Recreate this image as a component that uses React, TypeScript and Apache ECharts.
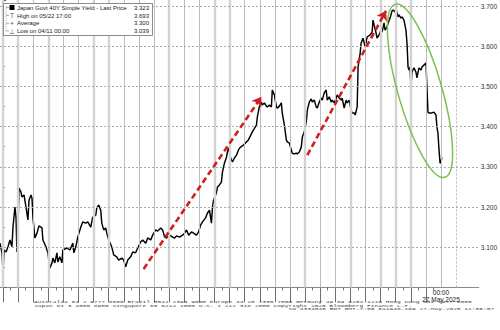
import React, { useEffect, useRef } from 'react';
import * as echarts from 'echarts';

// x position in trading sessions (one gray vertical line per session), y = yield
const sessionX = [
  -0.20,-0.07,0.00,0.07,0.20,0.33,0.46,0.59,0.66,0.79,
  0.86,0.92,0.99,1.06,1.19,1.25,1.39,1.52,1.65,1.72,
  1.85,1.92,1.98,2.11,2.25,2.38,2.58,2.64,2.84,2.97,
  3.10,3.24,3.30,3.43,3.57,3.63,3.76,3.90,3.96,4.23,
  4.43,4.62,4.69,4.82,4.95,5.15,5.28,5.48,5.61,5.81,
  5.94,6.14,6.21,6.34,6.47,6.54,6.67,6.80,6.87,7.00,
  7.20,7.33,7.53,7.66,7.86,7.99,8.12,8.26,8.45,8.59,
  8.78,8.92,9.11,9.25,9.45,9.58,9.78,9.91,10.11,10.24,
  10.44,10.57,10.70,10.83,11.03,11.23,11.36,11.49,11.69,11.89,
  12.02,12.15,12.29,12.48,12.62,12.81,12.95,13.08,13.21,13.41,
  13.54,13.67,13.80,13.87,13.94,14.13,14.20,14.33,14.46,14.53,
  14.66,14.80,14.86,14.93,15.06,15.19,15.32,15.46,15.59,15.72,
  15.85,16.05,16.25,16.51,16.78,16.84,16.97,17.11,17.17,17.31,
  17.44,17.50,17.64,17.77,17.83,17.97,18.10,18.16,18.30,18.43,
  18.49,18.63,18.76,18.82,18.96,19.09,19.15,19.29,19.42,19.48,
  19.62,19.75,19.82,19.95,20.08,20.15,20.28,20.41,20.48,20.61,
  20.74,20.81,20.94,21.07,21.14,21.27,21.40,21.47,21.60,21.73,
  21.80,21.93,22.06,22.13,22.26,22.39,22.46,22.59,22.72,22.79,
  22.92,23.05,23.12,23.25,23.32,23.45,23.51,23.65,23.71,23.84,
  23.98,24.11,24.31,24.44,24.50,24.57,24.70,24.77,24.90,25.03,
  25.10,25.23,25.30,25.43,25.50,25.63,25.76,25.83,25.96,26.02,
  26.16,26.22,26.35,26.42,26.55,26.68,26.75,26.82,26.88,26.95,
  27.01,27.08,27.21,27.34,27.41,27.54,27.68,27.74,27.87,28.01,
  28.07,28.14,28.20,28.40,28.53,28.67,28.73,28.80,28.86,28.94,
  29.00,29.06
];
const yields = [
  3.110,3.086,3.039,3.093,3.088,3.101,3.118,3.101,3.150,3.200,
  3.175,3.088,3.150,3.247,3.237,3.225,3.230,3.200,3.168,3.217,
  3.230,3.222,3.175,3.123,3.135,3.153,3.148,3.118,3.101,3.086,
  3.048,3.061,3.073,3.061,3.086,3.063,3.076,3.061,3.093,3.098,
  3.093,3.110,3.086,3.101,3.125,3.150,3.163,3.160,3.163,3.150,
  3.175,3.180,3.198,3.205,3.192,3.160,3.143,3.148,3.135,3.118,
  3.101,3.081,3.076,3.068,3.073,3.068,3.051,3.068,3.076,3.088,
  3.086,3.098,3.113,3.118,3.110,3.123,3.118,3.130,3.143,3.140,
  3.148,3.143,3.125,3.123,3.130,3.125,3.123,3.128,3.125,3.130,
  3.135,3.143,3.130,3.138,3.135,3.130,3.138,3.155,3.163,3.173,
  3.185,3.192,3.160,3.200,3.217,3.235,3.250,3.255,3.262,3.287,
  3.309,3.324,3.337,3.347,3.324,3.312,3.322,3.329,3.342,3.349,
  3.352,3.359,3.367,3.387,3.404,3.424,3.449,3.461,3.454,3.459,
  3.451,3.449,3.454,3.449,3.491,3.479,3.449,3.446,3.451,3.459,
  3.434,3.404,3.367,3.362,3.359,3.342,3.334,3.332,3.334,3.332,
  3.337,3.349,3.374,3.387,3.411,3.441,3.461,3.469,3.461,3.466,
  3.449,3.446,3.461,3.471,3.466,3.484,3.491,3.466,3.474,3.461,
  3.466,3.459,3.471,3.479,3.471,3.466,3.471,3.446,3.466,3.459,
  3.466,3.441,3.434,3.434,3.429,3.449,3.548,3.583,3.608,3.620,
  3.598,3.623,3.628,3.635,3.665,3.653,3.633,3.620,3.628,3.640,
  3.635,3.658,3.640,3.648,3.658,3.670,3.688,3.690,3.685,3.693,
  3.673,3.678,3.670,3.673,3.665,3.640,3.608,3.548,3.541,3.548,
  3.498,3.536,3.546,3.536,3.521,3.546,3.541,3.548,3.553,3.558,
  3.498,3.436,3.434,3.434,3.436,3.429,3.399,3.384,3.347,3.309,
  3.312,3.323
];

const yTicks = [3.1, 3.2, 3.3, 3.4, 3.5, 3.6, 3.7];
const sessionLines = Array.from({ length: 30 }, (_, i) => i);
const sessionTicks = Array.from({ length: 29 }, (_, i) => i);
const halfSessionTicks = Array.from({ length: 29 }, (_, i) => i + 0.5);
const wideSessions = [0, 1, 3, 6, 7, 11, 14, 15, 20, 23, 25, 26, 27];
const dottedSessions = [30];
const dateTickSession = 29;
const dateTickLabel = '00:00\n27 May 2025';

const legendLabels = [
  'Japan Govt 40Y Simple Yield - Last Price',
  'High on 05/22 17:00',
  'Average',
  'Low on 04/11 00:00',
];
const legendValues = ['3.323', '3.693', '3.300', '3.039'];
const legendGlyphs = ['', 'T', '+', '\u22A5'];
const lastPrice = 3.323;

const arrowSegments = [
  [[9.31, 3.046], [17.11, 3.474]],
  [[20.15, 3.329], [25.36, 3.688]],
];
const ellipseCenter = [27.61, 3.489];

const footerLines = [
  'Australia 61 2 9777 8600 Brazil 5511 2395 9000 Europe 44 20 7330 7500 Germany 49 69 9204 1210 Hong Kong 852 2977 6000',
  'Japan 81 3 4565 8900 Singapore 65 6212 1000 U.S. 1 212 318 2000 Copyright 2025 Bloomberg Finance L.P.',
  'SN 4334045 BDT GMT-7:00 6a1948-169 27-May-2025 11:56:57',
];

const FONT = '"Liberation Sans", Arial, sans-serif';
const MONO = '"Liberation Mono", "DejaVu Sans Mono", monospace';

export default function App() {
  const ref = useRef<HTMLDivElement>(null);

  useEffect(() => {
    if (!ref.current) return;
    const chart = echarts.init(ref.current, null, { renderer: 'svg' });

    const lineData = sessionX.map((x, i) => [x, yields[i]]);
    const Z = 100;

    const legendChildren: any[] = [
      { type: 'rect', z: Z, shape: { x: 3.5, y: 3.5, width: 149, height: 32 }, style: { fill: '#fff', stroke: '#8c8c8c', lineWidth: 1 } },
      { type: 'line', z: Z + 1, shape: { x1: 6, y1: 6, x2: 6, y2: 31 }, style: { stroke: '#999', lineWidth: 0.8, lineDash: [1, 1] } },
      { type: 'rect', z: Z + 1, shape: { x: 9.5, y: 5, width: 5, height: 5 }, style: { fill: '#000' } },
    ];
    const rowY = [7.5, 15.5, 23.3, 31];
    legendLabels.forEach((lab, i) => {
      legendChildren.push({ type: 'line', z: Z + 1, shape: { x1: 6, y1: rowY[i], x2: 9, y2: rowY[i] }, style: { stroke: '#999', lineWidth: 0.8 } });
      if (legendGlyphs[i]) {
        legendChildren.push({ type: 'text', z: Z + 1, x: 12, y: rowY[i], style: { text: legendGlyphs[i], fontSize: 6.5, fontFamily: FONT, fill: '#555', align: 'center', verticalAlign: 'middle' } });
      }
      legendChildren.push({ type: 'text', z: Z + 1, x: 17, y: rowY[i], style: { text: lab, fontSize: 6.0, fontFamily: FONT, fill: '#1a1a1a', align: 'left', verticalAlign: 'middle' } });
      legendChildren.push({ type: 'text', z: Z + 1, x: 149, y: rowY[i], style: { text: legendValues[i], fontSize: 6.0, fontFamily: FONT, fill: '#1a1a1a', align: 'right', verticalAlign: 'middle' } });
    });

    const footerPos = [[34, 300.5], [34, 304.2], [288.5, 307.8]];
    const footerEls = footerLines.map((t, i) => ({
      type: 'text', z: Z, x: footerPos[i][0], y: footerPos[i][1], scaleY: 0.62,
      style: { text: t, fontSize: 6.25, fontFamily: MONO, fill: '#444', align: 'left', verticalAlign: 'top' },
    }));

    const graphics: any[] = [...legendChildren, ...footerEls];

    const option: any = {
      animation: false,
      backgroundColor: '#fff',
      grid: { left: 0, right: 20, top: 0, bottom: 42.6 },
      xAxis: [
        {
          type: 'value', min: -0.2, max: 31.5,
          axisLine: { show: true, lineStyle: { color: '#8a8a8a', width: 1 } },
          axisTick: { show: true, length: 15, customValues: sessionTicks, lineStyle: { color: '#707070', width: 1 } },
          splitLine: { show: false },
          axisLabel: {
            customValues: [dateTickSession],
            formatter: () => dateTickLabel,
            fontSize: 6.5, lineHeight: 7.5, color: '#222', margin: 1, fontFamily: FONT,
          },
        },
        {
          type: 'value', min: -0.2, max: 31.5, position: 'bottom',
          axisLine: { show: false },
          axisTick: { show: true, length: 3, customValues: halfSessionTicks, lineStyle: { color: '#707070', width: 1 } },
          splitLine: { show: false },
          axisLabel: { show: false },
        },
      ],
      yAxis: {
        type: 'value', position: 'right', min: 3.0, max: 3.715, interval: 0.1,
        axisLine: { show: true, lineStyle: { color: '#555', width: 1 } },
        axisTick: { show: true, length: 3, lineStyle: { color: '#555' } },
        minorTick: { show: true, splitNumber: 2, length: 2, lineStyle: { color: '#777' } },
        splitLine: { show: false },
        axisLabel: {
          formatter: (v: number) => (yTicks.some((t) => Math.abs(t - v) < 1e-6) ? v.toFixed(3) : ''),
          fontSize: 6.5, color: '#333', margin: 2, fontFamily: FONT,
        },
      },
      series: [
        {
          type: 'line', z: 1, silent: true, data: [[-0.2, 3.0]], showSymbol: false,
          lineStyle: { opacity: 0 },
          markLine: {
            silent: true, symbol: ['none', 'none'], label: { show: false }, animation: false,
            data: [
              ...sessionLines.map((k) => ({
                xAxis: k,
                lineStyle: wideSessions.includes(k)
                  ? { color: '#d3d3d3', width: 2.4, type: 'solid' }
                  : { color: '#bdbdbd', width: 1, type: 'solid' },
              })),
              ...dottedSessions.map((k) => ({ xAxis: k, lineStyle: { color: '#b8b8b8', width: 1, type: [2, 2] } })),
              ...yTicks.map((v) => ({ yAxis: v, lineStyle: { color: '#aaaaaa', width: 1, type: [2, 2] } })),
            ],
          },
        },
        {
          type: 'line', z: 3, data: lineData, showSymbol: false, silent: true,
          lineStyle: { color: '#000', width: 1.45 },
          markLine: {
            silent: true, symbol: ['none', 'none'], animation: false,
            data: [
              {
                yAxis: lastPrice,
                lineStyle: { opacity: 0 },
                label: {
                  show: true, position: 'end', formatter: lastPrice.toFixed(3), distance: 1,
                  backgroundColor: '#111', color: '#fff', fontSize: 6.5, fontFamily: FONT,
                  padding: [2, 2, 1, 2], borderRadius: 1,
                },
              },
            ],
          },
        },
        {
          type: 'line', z: 4, silent: true, data: [[-0.2, 3.0]], showSymbol: false,
          lineStyle: { opacity: 0 },
          markLine: {
            silent: true, label: { show: false }, animation: false, symbolSize: 9,
            lineStyle: { color: '#d11f1f', width: 2.6, type: [6, 3.5] },
            itemStyle: { color: '#d11f1f' },
            data: arrowSegments.map(([a, b]) => [
              { coord: a, symbol: 'none' },
              { coord: b, symbol: 'arrow', symbolSize: 9 },
            ]),
          },
        },
      ],
      graphic: graphics,
    };

    chart.setOption(option);

    const c = chart.convertToPixel({ xAxisIndex: 0, yAxisIndex: 0 }, ellipseCenter) as number[];
    chart.setOption({
      graphic: [
        ...graphics,
        {
          type: 'ellipse', x: c[0], y: c[1], rotation: 0.28, z: 50,
          shape: { cx: 0, cy: 0, rx: 22, ry: 90 },
          style: { fill: 'none', stroke: '#7cc04f', lineWidth: 1.5 },
        },
      ],
    });

    return () => chart.dispose();
  }, []);

  return <div ref={ref} style={{ position: 'fixed', left: 0, top: 0, width: 500, height: 330 }} />;
}
